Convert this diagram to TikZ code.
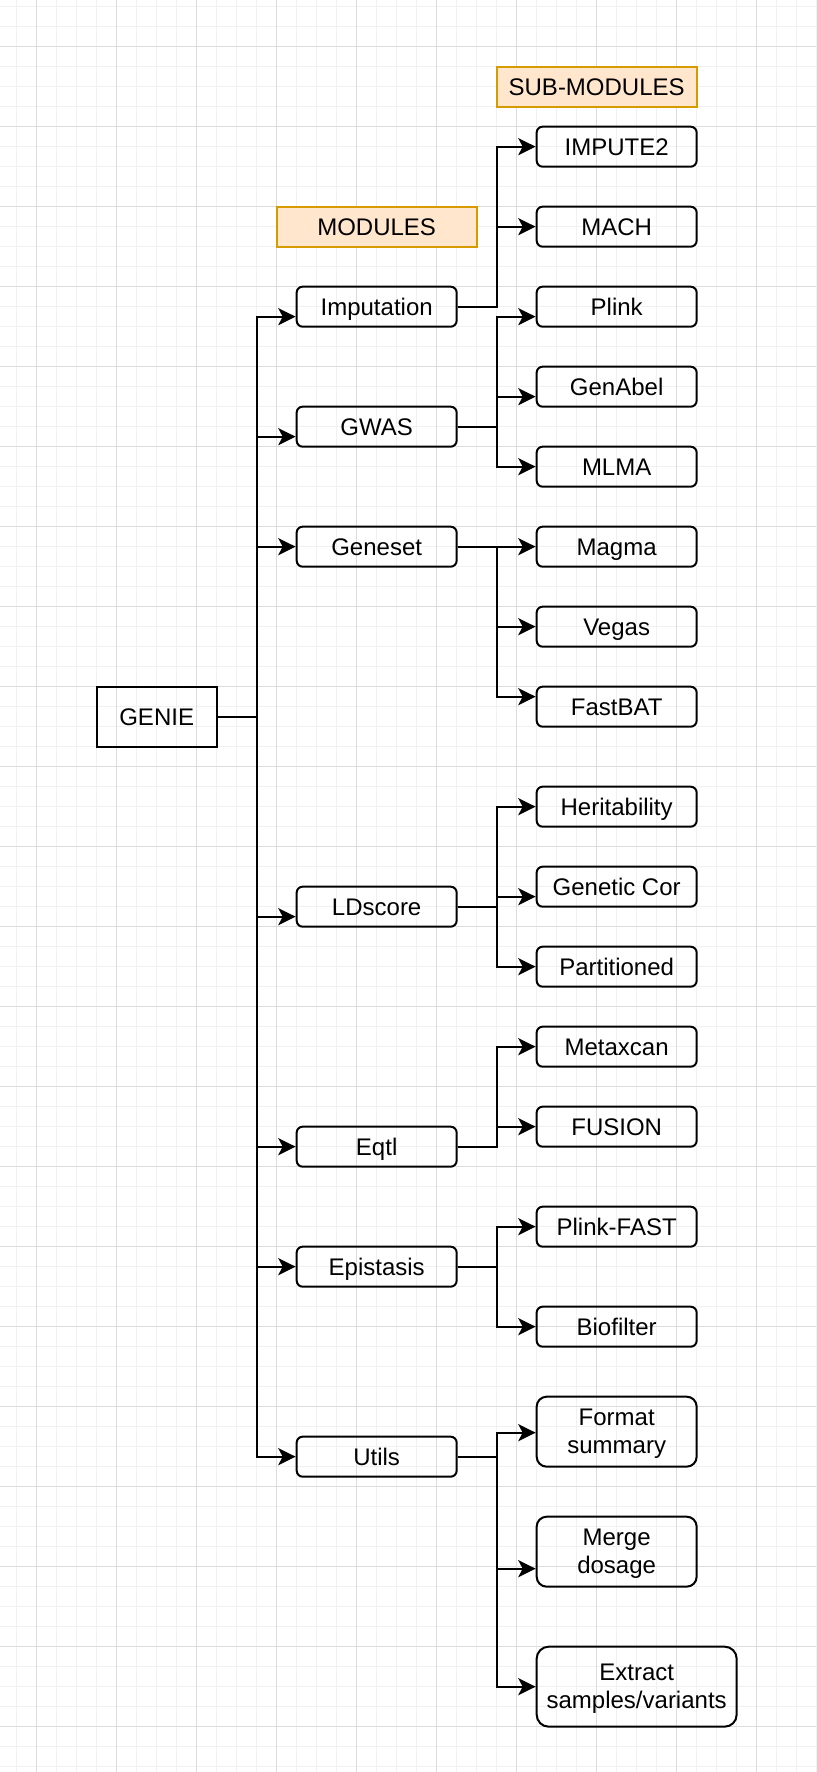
\documentclass[tikz,border=0pt]{standalone}
\usepackage{fontspec}
\setmainfont{Liberation Sans}
\usetikzlibrary{arrows.meta,calc}
\definecolor{gridminor}{HTML}{F1F1F1}
\definecolor{gridmajor}{HTML}{DCDCDC}
\definecolor{notefill}{HTML}{FFE6CC}
\definecolor{notedraw}{HTML}{D79B00}
\tikzset{
  box/.style={draw=black, line width=1pt, rounded corners=3pt, minimum width=80pt, minimum height=20pt,
    inner sep=0pt, align=center, font=\fontsize{12}{14}\selectfont, text height=9.86pt, text depth=1pt},
  tallbox/.style={draw=black, line width=1pt, rounded corners=5pt, minimum width=80pt, minimum height=35pt,
    inner sep=0pt, align=center, font=\fontsize{12}{14}\selectfont, text depth=-1.4pt},
  widebox/.style={tallbox, rounded corners=6pt, minimum width=100pt, minimum height=40pt},
  rootbox/.style={draw=black, line width=1pt, minimum width=60pt, minimum height=30pt, inner sep=0pt,
    font=\fontsize{12}{14}\selectfont, text height=9.86pt, text depth=1pt},
  notebox/.style={draw=notedraw, fill=notefill, line width=1pt, minimum width=100pt, minimum height=20pt,
    inner sep=0pt, font=\fontsize{12}{14}\selectfont, text height=9.86pt, text depth=1pt},
  arr/.style={line width=1pt, -{Stealth[length=8.7pt, width=8.5pt, inset=2.2pt]}}
}
\begin{document}
\begin{tikzpicture}[x=1pt,y=-1pt]
\useasboundingbox (0,0) rectangle (408,886);
\fill[white] (0,0) rectangle (408,886);
% grid
\foreach \k in {0,...,40} { \draw[gridminor, line width=0.5pt] (8.333+10*\k,0) -- (8.333+10*\k,886); }
\foreach \k in {0,...,88} { \draw[gridminor, line width=0.5pt] (0,3.333+10*\k) -- (408,3.333+10*\k); }
\foreach \k in {0,...,9} { \draw[gridmajor, line width=0.5pt] (18.333+40*\k,0) -- (18.333+40*\k,886); }
\foreach \k in {0,...,21} { \draw[gridmajor, line width=0.5pt] (0,23.333+40*\k) -- (408,23.333+40*\k); }

% labels
\node[notebox] (submodules) at (298.333,43.333) {SUB-MODULES};
\node[notebox] (modules) at (188.333,113.333) {MODULES};

% root
\node[rootbox] (genie) at (78.333,358.333) {GENIE};

% modules
\node[box] (imputation) at (188.333,153.333) {Imputation};
\node[box] (gwas) at (188.333,213.333) {GWAS};
\node[box] (geneset) at (188.333,273.333) {Geneset};
\node[box] (ldscore) at (188.333,453.333) {LDscore};
\node[box] (eqtl) at (188.333,573.333) {Eqtl};
\node[box] (epistasis) at (188.333,633.333) {Epistasis};
\node[box] (utils) at (188.333,728.333) {Utils};

% sub-modules
\node[box] (impute2) at (308.333,73.333) {IMPUTE2};
\node[box] (mach) at (308.333,113.333) {MACH};
\node[box] (plink) at (308.333,153.333) {Plink};
\node[box] (genabel) at (308.333,193.333) {GenAbel};
\node[box] (mlma) at (308.333,233.333) {MLMA};
\node[box] (magma) at (308.333,273.333) {Magma};
\node[box] (vegas) at (308.333,313.333) {Vegas};
\node[box] (fastbat) at (308.333,353.333) {FastBAT};
\node[box] (herit) at (308.333,403.333) {Heritability};
\node[box] (gencor) at (308.333,443.333) {Genetic Cor};
\node[box] (partit) at (308.333,483.333) {Partitioned};
\node[box] (metaxcan) at (308.333,523.333) {Metaxcan};
\node[box] (fusion) at (308.333,563.333) {FUSION};
\node[box] (plinkfast) at (308.333,613.333) {Plink-FAST};
\node[box] (biofilter) at (308.333,663.333) {Biofilter};
\node[tallbox] (format) at (308.333,715.833) {Format\\summary};
\node[tallbox] (merge) at (308.333,775.833) {Merge\\dosage};
\node[widebox] (extract) at (318.333,843.333) {Extract\\samples/variants};

% trunk from GENIE
\coordinate (trunk) at (128.333,358.333);
\draw[arr] (genie.east) -- (trunk) |- ($(imputation.west)+(0,5)$);
\draw[arr] (genie.east) -- (trunk) |- ($(gwas.west)+(0,5)$);
\draw[arr] (genie.east) -- (trunk) |- (geneset.west);
\draw[arr] (genie.east) -- (trunk) |- ($(ldscore.west)+(0,5)$);
\draw[arr] (genie.east) -- (trunk) |- (eqtl.west);
\draw[arr] (genie.east) -- (trunk) |- (epistasis.west);
\draw[arr] (genie.east) -- (trunk) |- (utils.west);

% Imputation branch
\coordinate (bimp) at (248.333,153.333);
\draw[arr] (imputation.east) -- (bimp) |- (impute2.west);
\draw[arr] (imputation.east) -- (bimp) |- (mach.west);

% GWAS branch
\coordinate (bgwas) at (248.333,213.333);
\draw[arr] (gwas.east) -- (bgwas) |- ($(plink.west)+(0,5)$);
\draw[arr] (gwas.east) -- (bgwas) |- ($(genabel.west)+(0,5)$);
\draw[arr] (gwas.east) -- (bgwas) |- (mlma.west);

% Geneset branch
\coordinate (bgene) at (248.333,273.333);
\draw[arr] (geneset.east) -- (bgene) |- (magma.west);
\draw[arr] (geneset.east) -- (bgene) |- (vegas.west);
\draw[arr] (geneset.east) -- (bgene) |- ($(fastbat.west)+(0,-5)$);

% LDscore branch
\coordinate (bld) at (248.333,453.333);
\draw[arr] (ldscore.east) -- (bld) |- (herit.west);
\draw[arr] (ldscore.east) -- (bld) |- ($(gencor.west)+(0,5)$);
\draw[arr] (ldscore.east) -- (bld) |- (partit.west);

% Eqtl branch
\coordinate (beqtl) at (248.333,573.333);
\draw[arr] (eqtl.east) -- (beqtl) |- (metaxcan.west);
\draw[arr] (eqtl.east) -- (beqtl) |- (fusion.west);

% Epistasis branch
\coordinate (bepi) at (248.333,633.333);
\draw[arr] (epistasis.east) -- (bepi) |- (plinkfast.west);
\draw[arr] (epistasis.east) -- (bepi) |- (biofilter.west);

% Utils branch
\coordinate (butil) at (248.333,728.333);
\draw[arr] (utils.east) -- (butil) |- ($(format.west)+(0,0.5)$);
\draw[arr] (utils.east) -- (butil) |- ($(merge.west)+(0,8.5)$);
\draw[arr] (utils.east) -- (butil) |- (extract.west);
\end{tikzpicture}
\end{document}
